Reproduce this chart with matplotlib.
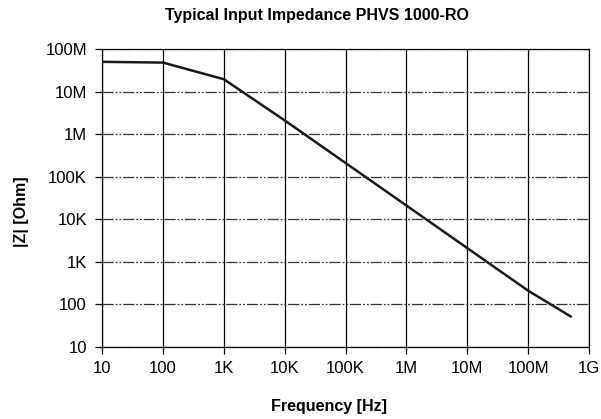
import matplotlib
matplotlib.use("Agg")
import matplotlib.pyplot as plt
from matplotlib.ticker import FixedLocator, NullLocator

plt.rcParams['font.family'] = ['Liberation Sans', 'DejaVu Sans']

freq = [10, 100, 1e3, 1e4, 1e5, 1e6, 1e7, 1e8, 5e8]
impedance = [50e6, 48e6, 19.5e6, 2.1e6, 2.1e5, 2.1e4, 2.1e3, 210, 52]

x_ticks = [10, 100, 1e3, 1e4, 1e5, 1e6, 1e7, 1e8, 1e9]
x_labels = ["10", "100", "1K", "10K", "100K", "1M", "10M", "100M", "1G"]
y_ticks = [10, 100, 1e3, 1e4, 1e5, 1e6, 1e7, 1e8]
y_labels = ["10", "100", "1K", "10K", "100K", "1M", "10M", "100M"]

fig = plt.figure(figsize=(6.01, 4.19), dpi=100)
ax = fig.add_axes([0.170, 0.172, 0.810, 0.711])

ax.set_xscale("log")
ax.set_yscale("log")
ax.set_xlim(10, 1e9)
ax.set_ylim(10, 1e8)

ax.xaxis.set_major_locator(FixedLocator(x_ticks))
ax.yaxis.set_major_locator(FixedLocator(y_ticks))
ax.xaxis.set_minor_locator(NullLocator())
ax.yaxis.set_minor_locator(NullLocator())
ax.set_xticklabels(x_labels, fontsize=12)
ax.set_yticklabels(y_labels, fontsize=12)

ax.grid(axis="x", color="black", linewidth=0.9, linestyle="-")
ax.grid(axis="y", color="#333333", linewidth=0.9, linestyle=(0, (9, 1.5, 1.5, 1.5, 1.5, 1.5)))

ax.plot(freq, impedance, color="#1a1a1a", linewidth=1.8, zorder=3)

for s in ax.spines.values():
    s.set_linewidth(0.9)
ax.tick_params(direction="out", length=5, width=0.9)
ax.tick_params(axis="y", pad=6)
ax.tick_params(axis="x", pad=5)

fig.text(0.527, 0.964, "Typical Input Impedance PHVS 1000-RO", fontsize=11.5,
         fontweight="bold", ha="center", va="center")
fig.text(0.548, 0.029, "Frequency [Hz]", fontsize=11.5, fontweight="bold",
         ha="center", va="center")
fig.text(0.035, 0.495, "|Z| [Ohm]", fontsize=11.5, fontweight="bold",
         ha="center", va="center", rotation=90)

fig.savefig("out.png", dpi=100)
